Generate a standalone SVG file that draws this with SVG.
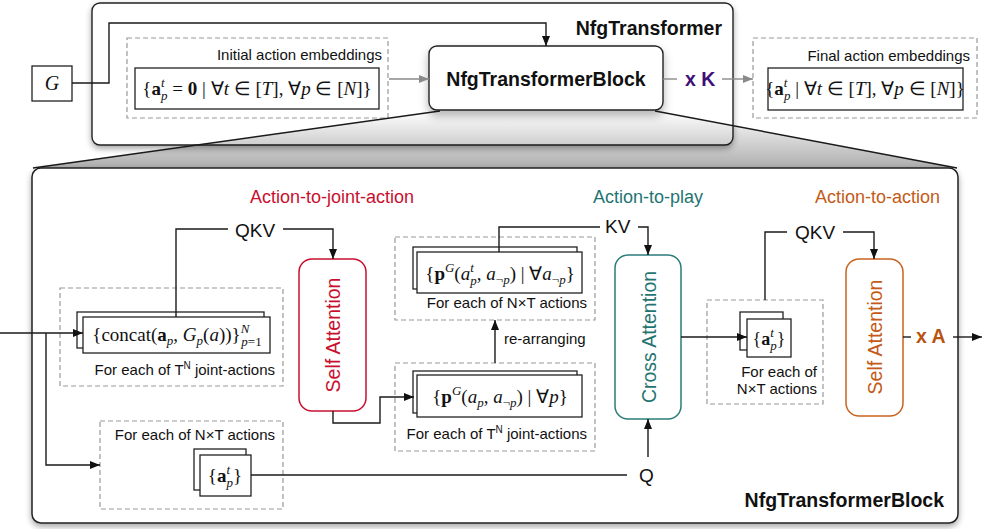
<svg xmlns="http://www.w3.org/2000/svg" width="982" height="529" viewBox="0 0 982 529">
<defs>
<style>
.box{fill:#fff;stroke:#222;stroke-width:1.3}
.dash{fill:none;stroke:#999;stroke-width:1.2;stroke-dasharray:5 3}
.ln{fill:none;stroke:#1a1a1a;stroke-width:1.4}
.gl{fill:none;stroke:#8a8a8a;stroke-width:1.4}
.sans{font-family:"Liberation Sans",Arial,sans-serif;fill:#111}
.lbl{font-size:15px}
.hd{font-size:18px}
.big{font-size:19.5px;font-weight:bold}
.att{font-size:19.5px}
.m{font-family:"Liberation Serif","Times New Roman",serif;fill:#111}
.b{font-weight:bold}
.i{font-style:italic}
.s{font-size:13px;font-style:italic}
</style>
<marker id="ah" viewBox="0 0 10 10" refX="10" refY="5" markerWidth="10" markerHeight="10" markerUnits="userSpaceOnUse" orient="auto"><path d="M0,1 L10,5 L0,9 z" fill="#111"/></marker>
<marker id="ahg" viewBox="0 0 10 10" refX="10" refY="5" markerWidth="10" markerHeight="10" markerUnits="userSpaceOnUse" orient="auto"><path d="M0,1 L10,5 L0,9 z" fill="#8a8a8a"/></marker>
<filter id="sh" x="-5%" y="-5%" width="110%" height="120%"><feDropShadow dx="0" dy="3" stdDeviation="3" flood-color="#000" flood-opacity="0.35"/></filter>
<filter id="sh2" x="-20%" y="-20%" width="140%" height="160%"><feDropShadow dx="0" dy="5" stdDeviation="5" flood-color="#000" flood-opacity="0.3"/></filter>
<linearGradient id="zg" x1="0" y1="111" x2="0" y2="168" gradientUnits="userSpaceOnUse"><stop offset="0" stop-color="#000" stop-opacity="0"/><stop offset="1" stop-color="#000" stop-opacity="0.32"/></linearGradient>
</defs>

<g id="nfgtransformer">
<rect x="92" y="3" width="641" height="142" rx="8" fill="#fff" stroke="#222" stroke-width="1.4" filter="url(#sh)"/>
<text class="sans big" x="722" y="35" text-anchor="end">NfgTransformer</text>
</g>

<g id="G">
<rect class="box" x="32" y="66" width="40" height="35"/>
<text class="m i" x="52" y="90" font-size="20" text-anchor="middle">G</text>
</g>

<g id="initial">
<rect class="dash" x="127" y="38" width="261" height="80"/>
<text class="sans lbl" x="382" y="60" text-anchor="end">Initial action embeddings</text>
<rect class="box" x="135" y="68" width="244" height="41"/>
<text class="m" x="257" y="95" font-size="19" text-anchor="middle">{<tspan class="b">a</tspan><tspan class="s" dy="-8">t</tspan><tspan class="s" dx="-3.5" dy="13">p</tspan><tspan dy="-5"> = </tspan><tspan class="b">0</tspan> | ∀<tspan class="i">t</tspan> ∈ [<tspan class="i">T</tspan>], ∀<tspan class="i">p</tspan> ∈ [<tspan class="i">N</tspan>]}</text>
</g>

<g id="block">
<rect x="429" y="46" width="234" height="64" rx="8" fill="#fff" stroke="#222" stroke-width="1.4" filter="url(#sh2)"/>
<text class="sans big" x="546" y="86" text-anchor="middle">NfgTransformerBlock</text>
</g>

<g id="xK">
<text class="sans big" x="685" y="86" style="fill:#3f1078">x K</text>
</g>

<g id="final">
<rect class="dash" x="753" y="38" width="224" height="80"/>
<text class="sans lbl" x="970" y="61" text-anchor="end">Final action embeddings</text>
<rect class="box" x="768" y="68" width="195" height="42"/>
<text class="m" x="865" y="95" font-size="19" text-anchor="middle">{<tspan class="b">a</tspan><tspan class="s" dy="-8">t</tspan><tspan class="s" dx="-3.5" dy="13">p</tspan><tspan dy="-5"> | ∀</tspan><tspan class="i">t</tspan> ∈ [<tspan class="i">T</tspan>], ∀<tspan class="i">p</tspan> ∈ [<tspan class="i">N</tspan>]}</text>
</g>

<g id="zoom">
<polygon points="440,111 655,111 957,168 33,168" fill="url(#zg)"/>
</g>

<g id="blockdetail">
<rect x="32" y="168" width="926" height="355" rx="9" fill="#fff" stroke="#222" stroke-width="1.5" filter="url(#sh)"/>
<text class="sans big" x="944" y="507" text-anchor="end">NfgTransformerBlock</text>
<text class="sans hd" x="250" y="203" style="fill:#c8102e">Action-to-joint-action</text>
<text class="sans hd" x="593" y="203" style="fill:#1f7472">Action-to-play</text>
<text class="sans hd" x="815" y="203" style="fill:#c45a17">Action-to-action</text>
</g>

<g id="concat">
<rect class="dash" x="60" y="288" width="223" height="98"/>
<rect class="box" x="77" y="312" width="187" height="36"/>
<rect class="box" x="83" y="317" width="187" height="36"/>
<text class="m" x="177" y="341" font-size="19" text-anchor="middle">{concat(<tspan class="b">a</tspan><tspan class="s" dy="4">p</tspan><tspan dy="-4">, </tspan><tspan class="i">G</tspan><tspan class="s" dy="4">p</tspan><tspan dy="-4">(</tspan><tspan class="i">a</tspan>))}<tspan class="s" dy="-8">N</tspan><tspan class="s" dx="-8" dy="13" style="font-style:normal"><tspan class="i">p</tspan>=1</tspan></text>
<text class="sans lbl" x="275" y="375" text-anchor="end">For each of T<tspan font-size="10" dy="-6">N</tspan><tspan dy="6"> joint-actions</tspan></text>
</g>

<g id="actions-left">
<rect class="dash" x="100" y="421" width="183" height="88"/>
<text class="sans lbl" x="275" y="440" text-anchor="end">For each of N×T actions</text>
<rect class="box" x="194" y="449" width="52" height="41"/>
<rect class="box" x="200" y="455" width="51" height="41"/>
<text class="m" x="225" y="482" font-size="19" text-anchor="middle">{<tspan class="b">a</tspan><tspan class="s" dy="-8">t</tspan><tspan class="s" dx="-3.5" dy="13">p</tspan><tspan dy="-5">}</tspan></text>
</g>

<g id="self-attention-1">
<rect x="299" y="259" width="67" height="152" rx="13" fill="#fff" stroke="#c8102e" stroke-width="1.5"/>
<text class="sans att" transform="translate(340,335) rotate(-90)" text-anchor="middle" style="fill:#c8102e">Self Attention</text>
</g>

<g id="pg-joint">
<rect class="dash" x="395" y="363" width="200" height="88"/>
<rect class="box" x="413" y="371" width="164" height="42"/>
<rect class="box" x="417" y="375" width="165" height="42"/>
<text class="m" x="500" y="403" font-size="19" text-anchor="middle">{<tspan class="b">p</tspan><tspan class="s" dy="-8">G</tspan><tspan dy="8">(</tspan><tspan class="i">a</tspan><tspan class="s" dy="4">p</tspan><tspan dy="-4">, </tspan><tspan class="i">a</tspan><tspan class="s" dy="4" style="font-style:normal">¬<tspan class="i">p</tspan></tspan><tspan dy="-4">) | ∀</tspan><tspan class="i">p</tspan>}</text>
<text class="sans lbl" x="587" y="439" text-anchor="end">For each of T<tspan font-size="10" dy="-6">N</tspan><tspan dy="6"> joint-actions</tspan></text>
</g>

<g id="pg-actions">
<rect class="dash" x="395" y="237" width="200" height="83"/>
<rect class="box" x="413" y="247" width="164" height="42"/>
<rect class="box" x="417" y="252" width="165" height="41"/>
<text class="m" x="500" y="280" font-size="19" text-anchor="middle">{<tspan class="b">p</tspan><tspan class="s" dy="-8">G</tspan><tspan dy="8">(</tspan><tspan class="i">a</tspan><tspan class="s" dy="-8">t</tspan><tspan class="s" dx="-3.5" dy="13">p</tspan><tspan dy="-5">, </tspan><tspan class="i">a</tspan><tspan class="s" dy="4" style="font-style:normal">¬<tspan class="i">p</tspan></tspan><tspan dy="-4">) | ∀</tspan><tspan class="i">a</tspan><tspan class="s" dy="4" style="font-style:normal">¬<tspan class="i">p</tspan></tspan><tspan dy="-4">}</tspan></text>
<text class="sans lbl" x="587" y="308" text-anchor="end">For each of N×T actions</text>
</g>

<g id="cross-attention">
<rect x="615" y="255" width="66" height="164" rx="13" fill="#fff" stroke="#2a7d7b" stroke-width="1.5"/>
<text class="sans att" transform="translate(656,337) rotate(-90)" text-anchor="middle" style="fill:#1f7472">Cross Attention</text>
</g>

<g id="actions-right">
<rect class="dash" x="707" y="300" width="116" height="104"/>
<rect class="box" x="740" y="312" width="43" height="38"/>
<rect class="box" x="747" y="319" width="44" height="38"/>
<text class="m" x="769" y="345" font-size="18" text-anchor="middle">{<tspan class="b">a</tspan><tspan class="s" dy="-8">t</tspan><tspan class="s" dx="-3.5" dy="13">p</tspan><tspan dy="-5">}</tspan></text>
<text class="sans lbl" x="817" y="377" text-anchor="end">For each of</text>
<text class="sans lbl" x="817" y="394" text-anchor="end">N×T actions</text>
</g>

<g id="self-attention-2">
<rect x="846" y="259" width="57" height="157" rx="13" fill="#fff" stroke="#c9631e" stroke-width="1.5"/>
<text class="sans att" transform="translate(882,337) rotate(-90)" text-anchor="middle" style="fill:#c45a17">Self Attention</text>
</g>

<g id="labels">
<text class="sans" x="235" y="237" font-size="19">QKV</text>
<text class="sans" x="605" y="233" font-size="19">KV</text>
<text class="sans" x="795" y="239" font-size="19">QKV</text>
<text class="sans" x="639" y="482" font-size="19">Q</text>
<text class="sans lbl" x="504" y="344">re-arranging</text>
<text class="sans big" x="916" y="343" style="fill:#b8540f">x A</text>
</g>

<g id="connectors">
<path class="ln" d="M72 83 H109 V23 H546 V46" marker-end="url(#ah)"/>
<path class="gl" d="M389 79 H429" marker-end="url(#ahg)"/>
<path class="gl" d="M663 79 H677"/>
<path class="gl" d="M722 79 H753" marker-end="url(#ahg)"/>
<path class="ln" d="M440 111 L33 168"/>
<path class="ln" d="M655 111 L957 168"/>
<path class="ln" d="M0 333 H83" marker-end="url(#ah)"/>
<path class="ln" d="M46 333 V465 H100" marker-end="url(#ah)"/>
<path class="ln" d="M228 229 H176 V317"/>
<path class="ln" d="M283 229 H333 V259" marker-end="url(#ah)"/>
<path class="ln" d="M333 411 V423 H380 V397 H414" marker-end="url(#ah)"/>
<path class="ln" d="M495 363 V320" marker-end="url(#ah)"/>
<path class="ln" d="M600 227 H499 V252"/>
<path class="ln" d="M638 227 H648 V255" marker-end="url(#ah)"/>
<path class="ln" d="M251 475 H627"/>
<path class="ln" d="M648 457 V419" marker-end="url(#ah)"/>
<path class="ln" d="M681 337 H747" marker-end="url(#ah)"/>
<path class="ln" d="M787 232 H765 V300"/>
<path class="ln" d="M843 232 H874 V259" marker-end="url(#ah)"/>
<path class="ln" d="M903 337 H911"/>
<path class="ln" d="M953 337 H982" marker-end="url(#ah)"/>
</g>
</svg>
